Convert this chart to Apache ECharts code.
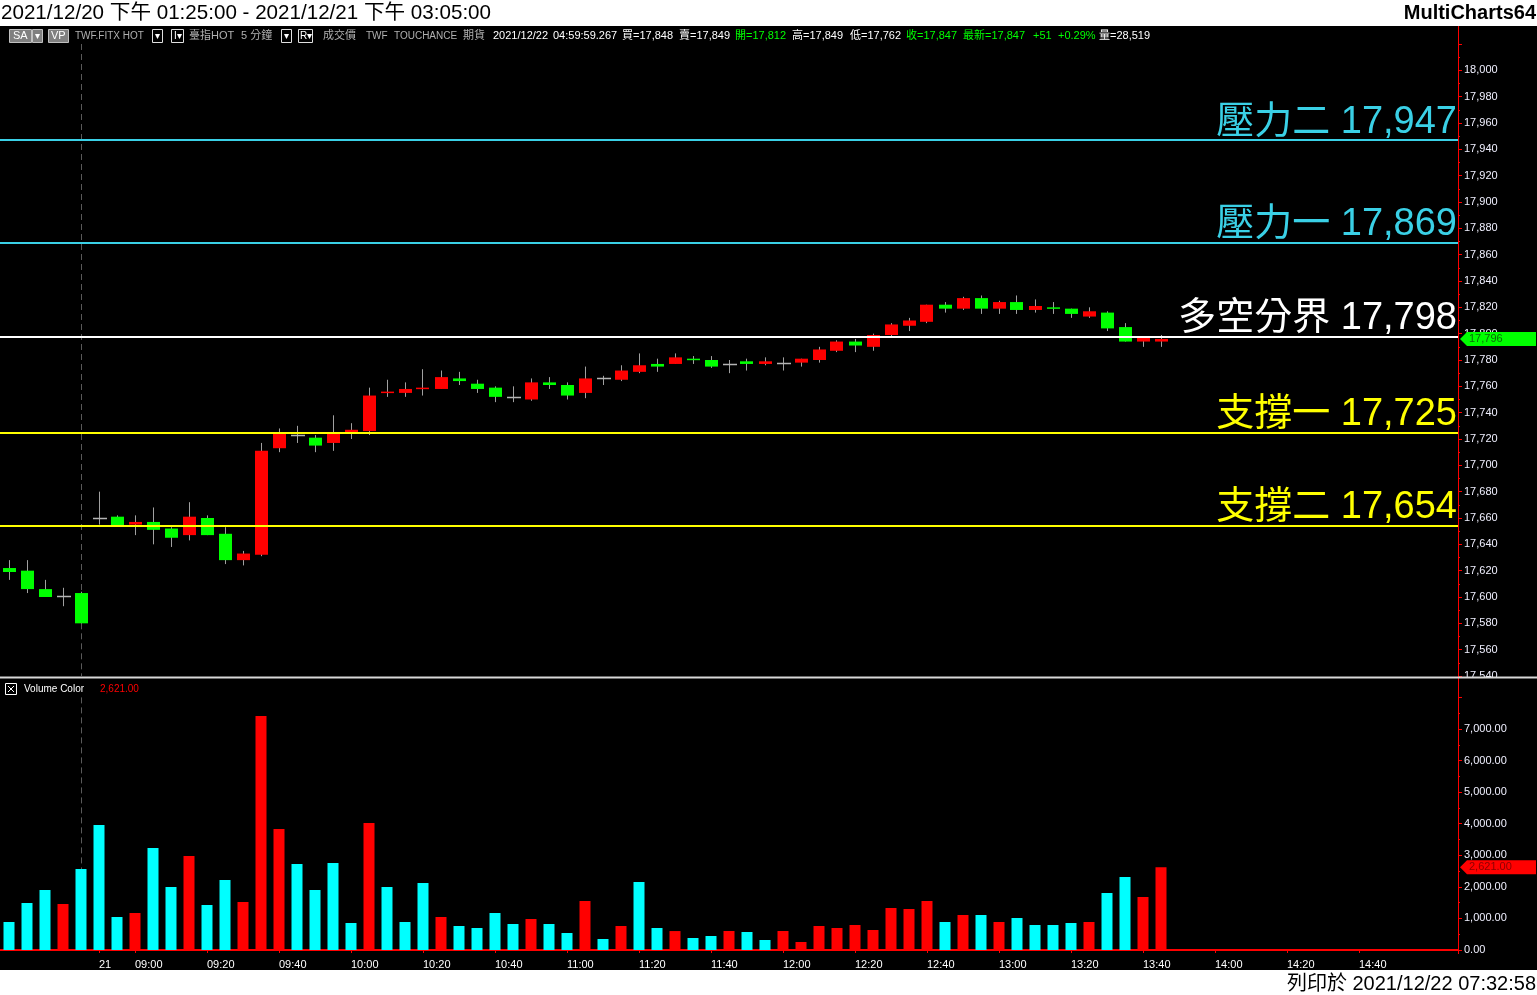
<!DOCTYPE html>
<html><head><meta charset="utf-8">
<script src="https://cdn.jsdelivr.net/npm/echarts@6/dist/echarts.min.js"></script>
<style>html,body{margin:0;padding:0;background:#fff;overflow:hidden}#c{width:1537px;height:995px}</style>
</head><body><div id="c"></div>
<script>
// ---------------- DATA ----------------
const categories = ['13:25','13:30','13:35','13:40','13:45',
'08:50','08:55',
'09:00','09:05','09:10','09:15','09:20','09:25','09:30','09:35','09:40','09:45','09:50','09:55',
'10:00','10:05','10:10','10:15','10:20','10:25','10:30','10:35','10:40','10:45','10:50','10:55',
'11:00','11:05','11:10','11:15','11:20','11:25','11:30','11:35','11:40','11:45','11:50','11:55',
'12:00','12:05','12:10','12:15','12:20','12:25','12:30','12:35','12:40','12:45','12:50','12:55',
'13:00','13:05','13:10','13:15','13:20','13:25','13:30','13:35','13:40','13:45','13:50','13:55',
'14:00','14:05','14:10','14:15','14:20','14:25','14:30','14:35','14:40','14:45','14:50','14:55',
'15:00','15:05'];
const dayBreakIndex = 5;
const dayBreakLabel = '21';
const shownTimeLabels = ['09:00','09:20','09:40','10:00','10:20','10:40','11:00','11:20','11:40','12:00','12:20','12:40','13:00','13:20','13:40','14:00','14:20','14:40'];

const opens  = [17622,17620,17606,17601,17603,17660,17661,17655,17657,17652,17647,17660,17648,17628,17632,17713,17723,17721,17717,17725,17726,17755,17755,17758,17758,17766,17762,17759,17752,17750,17763,17761,17755,17766,17765,17771,17777,17777,17781,17780,17777,17779,17777,17778,17778,17780,17787,17794,17790,17799,17806,17809,17822,17819,17827,17819,17824,17818,17820,17819,17813,17816,17805,17794,17794];
const closes = [17619,17606,17600,17601,17580,17660,17654,17657,17651,17645,17661,17647,17628,17633,17711,17724,17723,17715,17724,17727,17753,17756,17758,17759,17767,17764,17758,17752,17752,17763,17761,17753,17766,17766,17772,17776,17775,17782,17780,17775,17777,17777,17779,17778,17781,17788,17794,17791,17799,17807,17810,17822,17819,17827,17819,17824,17818,17821,17819,17815,17817,17804,17794,17797,17796];
const lows   = [17613,17603,17600,17593,17577,17655,17654,17647,17640,17638,17643,17647,17625,17624,17631,17710,17717,17710,17711,17720,17723,17752,17752,17753,17758,17761,17755,17748,17748,17749,17758,17750,17751,17761,17764,17770,17771,17777,17777,17774,17770,17772,17776,17772,17775,17778,17786,17786,17787,17798,17802,17808,17816,17818,17815,17815,17815,17816,17815,17812,17812,17802,17794,17790,17790];
const highs  = [17628,17628,17613,17607,17604,17680,17662,17662,17668,17653,17672,17662,17653,17635,17717,17728,17730,17723,17738,17732,17759,17765,17763,17773,17772,17771,17765,17760,17760,17766,17767,17763,17775,17768,17776,17785,17781,17785,17783,17783,17780,17781,17782,17782,17781,17790,17795,17796,17800,17808,17812,17822,17824,17828,17829,17825,17829,17826,17824,17819,17820,17817,17808,17798,17799];
const volumes = [887,1489,1900,1457,2566,3959,1045,1172,3231,1996,2978,1425,2217,1520,7412,3833,2724,1900,2756,855,4023,1996,887,2122,1045,760,697,1172,824,982,824,538,1552,348,760,2154,697,600,380,443,602,570,317,602,253,760,697,792,633,1330,1299,1552,887,1109,1109,887,1014,792,792,855,887,1805,2312,1679,2621];
const volumeUp = [0,0,0,1,0,0,0,1,0,0,1,0,0,1,1,1,0,0,0,0,1,0,0,0,1,0,0,0,0,1,0,0,1,0,1,0,0,1,0,0,1,0,0,1,1,1,1,1,1,1,1,1,0,1,0,1,0,0,0,0,1,0,0,1,1];

const levelValues = [17947,17869,17798,17725,17654];
const levelNames  = ['壓力二','壓力一','多空分界','支撐一','支撐二'];

const priceMin = 17540, priceMax = 18020, priceStep = 20;
const volMin = 0, volMax = 8000, volStep = 1000;

// ---------------- STYLE ----------------
const FONT = "'Liberation Sans','Noto Sans CJK TC',sans-serif";
const CYAN = '#3ad0e6';
const levelColors = [CYAN, CYAN, '#ffffff', '#ffff00', '#ffff00'];
const RED = '#ff0000', GREEN = '#00ff00', VCYAN = '#00ffff', WICK = '#a0a0a0';
const fmt = v => v.toLocaleString('en-US');
const fmt2 = v => v.toLocaleString('en-US', {minimumFractionDigits: 2, maximumFractionDigits: 2});

const chart = echarts.init(document.getElementById('c'), null, {renderer: 'canvas'});

function renderCandle(params, api) {
  const i = api.value(0), o = api.value(1), c = api.value(2), l = api.value(3), h = api.value(4);
  const po = api.coord([i, o]), pc = api.coord([i, c]), pl = api.coord([i, l]), ph = api.coord([i, h]);
  const cx = Math.floor(po[0]) + 0.5;
  const left = Math.floor(po[0]) - 6;
  const children = [{type: 'line', shape: {x1: cx, y1: ph[1], x2: cx, y2: pl[1]}, style: {stroke: WICK, lineWidth: 1}}];
  if (o === c) {
    const y = Math.round(pc[1]) + 0.5;
    children.push({type: 'line', shape: {x1: left, y1: y, x2: left + 14, y2: y}, style: {stroke: '#b4b4b4', lineWidth: 1.5}});
  } else {
    const top = Math.min(po[1], pc[1]), bot = Math.max(po[1], pc[1]);
    children.push({type: 'rect', shape: {x: left, y: top, width: 13, height: Math.max(bot - top, 1.5)}, style: {fill: c > o ? RED : GREEN}});
  }
  return {type: 'group', children};
}

const isShownTick = (idx) => idx === dayBreakIndex || (idx > dayBreakIndex && shownTimeLabels.indexOf(categories[idx]) >= 0);
const sep = dayBreakIndex - 1;
const dashStyle = {type: [6, 4], color: '#5a5a5a', width: 1};

const option = {
  backgroundColor: '#000',
  animation: false,
  grid: [
    {left: 0, top: 44, width: 1458, height: 632},
    {left: 0, top: 697.4, width: 1458, height: 252.6}
  ],
  xAxis: [
    {type: 'category', gridIndex: 0, data: categories, boundaryGap: true,
     axisLine: {show: false}, axisTick: {show: false}, axisLabel: {show: false}, splitLine: {show: false}},
    {type: 'category', gridIndex: 1, data: categories, boundaryGap: true, offset: 3,
     axisLine: {show: true, lineStyle: {color: RED, width: 2}},
     axisTick: {show: true, alignWithLabel: true, length: 3, lineStyle: {color: RED}, interval: (idx) => isShownTick(idx)},
     axisLabel: {show: true, interval: (idx) => isShownTick(idx), color: '#ffffff', fontSize: 11, fontFamily: FONT, align: 'left', margin: 6,
       formatter: (v, idx) => idx === dayBreakIndex ? dayBreakLabel : v},
     splitLine: {show: false}}
  ],
  yAxis: [
    {type: 'value', gridIndex: 0, position: 'right', min: priceMin, max: priceMax, interval: priceStep,
     axisLine: {show: true, lineStyle: {color: RED, width: 1}},
     axisTick: {show: true, length: 4, lineStyle: {color: RED}},
     minorTick: {show: true, splitNumber: 2, length: 2, lineStyle: {color: RED}},
     axisLabel: {color: '#f0f0ff', fontSize: 11, fontFamily: FONT, margin: 6, showMaxLabel: false, formatter: v => fmt(v)},
     splitLine: {show: false}},
    {type: 'value', gridIndex: 1, position: 'right', min: volMin, max: volMax, interval: volStep,
     axisLine: {show: true, lineStyle: {color: RED, width: 1}},
     axisTick: {show: true, length: 4, lineStyle: {color: RED}},
     minorTick: {show: true, splitNumber: 2, length: 2, lineStyle: {color: RED}},
     axisLabel: {color: '#f0f0ff', fontSize: 11, fontFamily: FONT, margin: 6, showMaxLabel: false, formatter: v => fmt2(v)},
     splitLine: {show: false}}
  ],
  series: [
    {type: 'line', xAxisIndex: 0, yAxisIndex: 0, z: 1, data: opens.map(() => '-'), showSymbol: false, silent: true,
     markLine: {symbol: ['none', 'none'], silent: true, animation: false, label: {show: false}, lineStyle: dashStyle,
       data: [
         [{coord: [sep, priceMax]}, {coord: [sep, Math.max(opens[sep], closes[sep])]}],
         [{coord: [sep, Math.min(opens[sep], closes[sep])]}, {coord: [sep, priceMin]}]
       ]}},
    {type: 'custom', name: 'price', xAxisIndex: 0, yAxisIndex: 0, z: 3, renderItem: renderCandle,
     encode: {x: 0, y: [1, 2, 3, 4]},
     data: opens.map((o, i) => [i, o, closes[i], lows[i], highs[i]])},
    {type: 'line', xAxisIndex: 0, yAxisIndex: 0, z: 5, data: opens.map(() => '-'), showSymbol: false, silent: true,
     markLine: {symbol: ['none', 'none'], silent: true, animation: false,
       data: levelValues.map((v, k) => ({
         yAxis: v,
         lineStyle: {color: levelColors[k], width: 2, type: 'solid'},
         label: {show: true, position: 'insideEndTop', distance: [1, -1], formatter: levelNames[k] + ' ' + fmt(v),
           color: levelColors[k], fontSize: 38, fontFamily: FONT}
       }))}},
    {type: 'line', xAxisIndex: 1, yAxisIndex: 1, z: 1, data: volumes.map(() => '-'), showSymbol: false, silent: true,
     markLine: {symbol: ['none', 'none'], silent: true, animation: false, label: {show: false}, lineStyle: dashStyle,
       data: [[{coord: [sep, volMax]}, {coord: [sep, volumes[sep]]}]]}},
    {type: 'bar', name: 'volume', xAxisIndex: 1, yAxisIndex: 1, z: 3, barWidth: 11,
     data: volumes.map((v, i) => ({value: v, itemStyle: {color: volumeUp[i] ? RED : VCYAN}}))}
  ]
};
chart.setOption(option);

// ---------------- GRAPHIC OVERLAYS ----------------
function T(x, y, text, color, size, align, weight) {
  return {type: 'text', z: 100, x: x, y: y, silent: true,
    style: {text: text, fill: color, fontSize: size, fontFamily: FONT, fontWeight: weight || 'normal', verticalAlign: 'middle', align: align || 'left'}};
}
function R(x, y, w, h, fill, stroke) {
  return {type: 'rect', z: 99, silent: true, shape: {x: x, y: y, width: w, height: h}, style: {fill: fill, stroke: stroke || null, lineWidth: 1}};
}
const GRAY = '#b0b0b0', WHITE = '#ffffff';
const hy = 36;
const lastClose = closes[closes.length - 1];
const lastVol = volumes[volumes.length - 1];
const yLast = chart.convertToPixel({yAxisIndex: 0}, lastClose);
const yVol = chart.convertToPixel({yAxisIndex: 1}, lastVol);

const g = [
  R(0, 0, 1537, 26, '#ffffff'),
  R(0, 970, 1537, 25, '#ffffff'),
  T(1, 13, '2021/12/20 下午 01:25:00 - 2021/12/21 下午 03:05:00', '#000000', 20.6),
  T(1536, 13, 'MultiCharts64', '#000000', 20, 'right', 'bold'),
  T(1536, 984, '列印於 2021/12/22 07:32:58', '#000000', 20, 'right'),
  // header
  R(9.5, 29.5, 22, 13, '#808080', '#c0c0c0'), T(13, hy, 'SA', WHITE, 11),
  R(32.5, 29.5, 10, 13, '#808080', '#c0c0c0'), T(37.5, hy, '▾', WHITE, 10, 'center'),
  R(48.5, 29.5, 20, 13, '#808080', '#c0c0c0'), T(51, hy, 'VP', WHITE, 11),
  T(75, hy, 'TWF.FITX HOT', GRAY, 10),
  R(152.5, 29.5, 10, 13, '#000', '#e0e0e0'), T(157.5, hy, '▾', WHITE, 10, 'center'),
  R(171.5, 29.5, 12, 13, '#000', '#e0e0e0'), T(174, hy, 'I▾', WHITE, 10),
  T(189, hy, '臺指HOT', GRAY, 11),
  T(241, hy, '5 分鐘', GRAY, 11),
  R(281.5, 29.5, 10, 13, '#000', '#e0e0e0'), T(286.5, hy, '▾', WHITE, 10, 'center'),
  R(298.5, 29.5, 14, 13, '#000', '#e0e0e0'), T(300, hy, 'R▾', WHITE, 10),
  T(323, hy, '成交價', GRAY, 11),
  T(366, hy, 'TWF', GRAY, 10),
  T(394, hy, 'TOUCHANCE', GRAY, 10),
  T(463, hy, '期貨', GRAY, 11),
  T(493, hy, '2021/12/22', WHITE, 11),
  T(553, hy, '04:59:59.267', WHITE, 11),
  T(622, hy, '買=17,848', WHITE, 11),
  T(679, hy, '賣=17,849', WHITE, 11),
  T(735, hy, '開=17,812', GREEN, 11),
  T(792, hy, '高=17,849', WHITE, 11),
  T(850, hy, '低=17,762', WHITE, 11),
  T(906, hy, '收=17,847', GREEN, 11),
  T(963, hy, '最新=17,847', GREEN, 11),
  T(1033, hy, '+51', GREEN, 11),
  T(1058, hy, '+0.29%', GREEN, 11),
  T(1099, hy, '量=28,519', WHITE, 11),
  // axis line continuation
  {type: 'line', z: 98, silent: true, shape: {x1: 1458.5, y1: 26, x2: 1458.5, y2: 954}, style: {stroke: RED, lineWidth: 1}},
  // pane separator
  R(1459, 678, 78, 10, '#000000'),
  R(0, 676.5, 1537, 2, '#d8d8d8'),
  // volume pane title
  R(5.5, 683.5, 11, 11, '#000', '#ffffff'),
  {type: 'line', z: 100, silent: true, shape: {x1: 8, y1: 686, x2: 14, y2: 692}, style: {stroke: '#fff', lineWidth: 1}},
  {type: 'line', z: 100, silent: true, shape: {x1: 14, y1: 686, x2: 8, y2: 692}, style: {stroke: '#fff', lineWidth: 1}},
  T(24, 689, 'Volume Color', WHITE, 10),
  T(100, 689, fmt2(lastVol), RED, 10),
  // last price marker
  {type: 'polygon', z: 100, silent: true, shape: {points: [[1460, yLast], [1467, yLast - 7], [1536, yLast - 7], [1536, yLast + 7], [1467, yLast + 7]]}, style: {fill: GREEN}},
  T(1469, yLast, fmt(lastClose), '#0a6a0a', 11),
  // last volume marker
  {type: 'polygon', z: 100, silent: true, shape: {points: [[1460, yVol], [1467, yVol - 7], [1536, yVol - 7], [1536, yVol + 7], [1467, yVol + 7]]}, style: {fill: RED}},
  T(1469, yVol, fmt2(lastVol), '#8a0000', 11)
];
chart.setOption({graphic: {elements: g}});
</script></body></html>
